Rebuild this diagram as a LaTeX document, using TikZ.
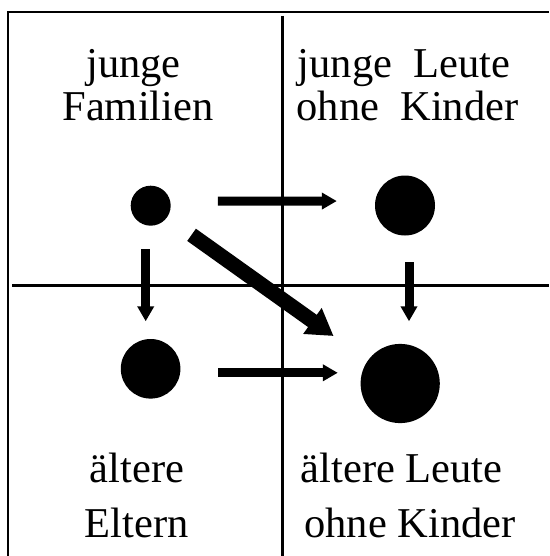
\documentclass[tikz,border=0pt]{standalone}
\usepackage{fontspec}
\setmainfont{Liberation Serif}
\usetikzlibrary{arrows.meta}
\begin{document}
\begin{tikzpicture}[x=1pt,y=-1pt,
   dot/.style={circle,fill=black,inner sep=0pt,minimum size=#1},
   lbl/.style={anchor=base,inner sep=0pt,font=\fontsize{42.5}{43}\selectfont},
   rule/.style={line width=2.5pt},
   thinarrow/.style={line width=9pt,-{Triangle[width=16pt,length=15pt]}},
   fatarrow/.style={line width=15pt,-{Triangle[width=30pt,length=26pt]}}]
\useasboundingbox (0,0) rectangle (549,556);
\draw[rule] (8,556) -- (8,12) -- (549,12);
\draw[rule] (282.7,16) -- (282.7,556);
\draw[rule] (12,285.5) -- (549,285.5);
   \foreach \x/\y/\d [count=\n] in
        {150.7/205.7/40,405/205.5/60,150.6/368.8/59.6,400.2/383.5/79.2}
           \node[dot=\d pt](N\n) at (\x,\y) {};
   \foreach \x/\y/\t [count=\n] in
        {133.5/77.7/junge,138/120.8/Familien,404/77.7/junge\ \ Leute,407.5/120.8/ohne\ \ Kinder,
         137/482.6/ältere,136.5/537/Eltern,401.5/482.6/ältere Leute,410/537/ohne Kinder}
           \node[lbl](L\n) at (\x,\y) {\t};
\draw[thinarrow,shorten <=47pt,shorten >=38pt] ([yshift=4.5pt]N1.east) -- ([yshift=4.5pt]N2.west);
\draw[thinarrow,shorten <=37.6pt,shorten >=22.6pt] ([yshift=-4pt]N3.east) -- ([yshift=-4pt]N3.east -| N4.west);
\draw[thinarrow,shorten <=23.3pt,shorten >=17.5pt] ([xshift=-5pt]N1.south) -- ([xshift=-5pt]N1.south |- N3.north);
\draw[thinarrow,shorten <=26.5pt,shorten >=22.4pt] ([xshift=4pt]N2.south) -- ([xshift=4pt]N2.south |- N4.north);
\draw[fatarrow,shorten <=30pt,shorten >=42pt] (N1) -- (N4);
\end{tikzpicture}
\end{document}
